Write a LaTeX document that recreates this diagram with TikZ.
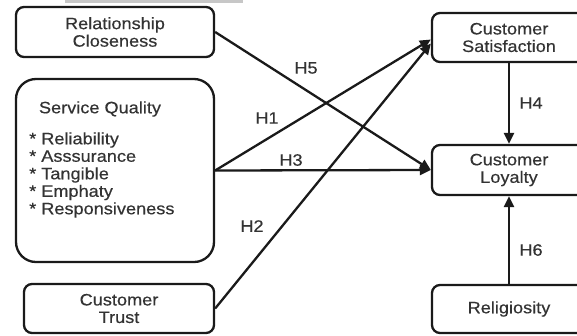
\documentclass[tikz,border=0pt]{standalone}
\usepackage{fontspec}
\setmainfont{Liberation Sans}[FakeStretch=1.1,FakeBold=0.4]
\usetikzlibrary{arrows.meta}
\definecolor{linec}{HTML}{1A1A1A}
\definecolor{txtc}{HTML}{333333}

\begin{document}
\begin{tikzpicture}[x=1pt,y=-1pt,
  box/.style={draw=linec, line width=2.3pt, fill=white, rounded corners=8pt,
              inner sep=0pt, text=txtc, align=center,
              font=\fontsize{16.5}{17.5}\selectfont},
  lbl/.style={text=txtc, inner sep=0pt, font=\fontsize{16.5}{17.5}\selectfont},
  link/.style={draw=linec, line width=2.3pt, -{Triangle[length=11pt,width=10pt]}},
  hyp/.style={text=txtc, inner sep=0pt, font=\fontsize{16.5}{17.5}\selectfont}]
\useasboundingbox (0,0) rectangle (577,335);
\clip (0,0) rectangle (577,335);
\fill[white] (0,0) rectangle (577,335);
\fill[black!22] (65,0) rectangle (243,3);

% left-hand constructs
\node[box, minimum width=198pt, minimum height=50pt] (rc) at (115,32)
  {Relationship\\Closeness};
\node[box, rounded corners=20pt, minimum width=198pt, minimum height=183pt]
  (sq) at (115,170.5) {};
\node[lbl] (sqtitle) at (100,109) {Service Quality};
\node[lbl, anchor=west, align=left] (sqlist) at (29,175)
  {* Reliability\\* Asssurance\\* Tangible\\* Emphaty\\* Responsiveness};
\node[box, minimum width=190pt, minimum height=49pt] (trust) at (119,308.5)
  {Customer\\Trust};

% right-hand constructs
\node[box, minimum width=154pt, minimum height=49pt] (sat) at (509,37.5)
  {Customer\\Satisfaction};
\node[box, minimum width=154pt, minimum height=50pt] (loy) at (509,170)
  {Customer\\Loyalty};
\node[box, minimum width=154pt, minimum height=48pt] (rel) at (509,309)
  {Religiosity};

% hypothesised paths
\draw[link] (rc.east) -- (loy.west);
\draw[link] (sq.east) -- ([yshift=-2pt]sat.west);
\draw[link] (sq.east) -- (loy.west);
\draw[link] (trust.east) -- ([yshift=-6pt]sat.west);
\draw[link] (sat.south) -- (loy.north);
\draw[link] (rel.north) -- (loy.south);

% path labels
\node[hyp] (h5) at (306,68) {H5};
\node[hyp] (h1) at (267,118) {H1};
\node[hyp] (h3) at (291,160) {H3};
\node[hyp] (h2) at (252,226) {H2};
\node[hyp] (h4) at (531,103) {H4};
\node[hyp] (h6) at (531,250) {H6};
\end{tikzpicture}
\end{document}
